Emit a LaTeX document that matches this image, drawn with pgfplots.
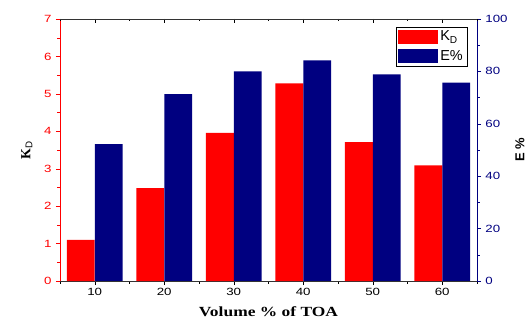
\documentclass[border=0pt]{standalone}
\usepackage{pgfplots}
\pgfplotsset{compat=1.18}
\usepackage{fontspec}
\setmainfont{Liberation Sans}
\newfontfamily\timesf{Liberation Serif}
\definecolor{navyb}{HTML}{000080}
\begin{document}
\begin{tikzpicture}
\pgfplotsset{
  common/.style={scale only axis, width=417bp, height=262bp, xmin=5, xmax=65,
    /pgf/number format/assume math mode=true,
    tick label style={font=\fontsize{10.5}{12}\selectfont, xscale=1.27},
    major tick length=4bp, minor tick length=2.5bp},
}
\begin{axis}[common, name=main,
  ymin=0, ymax=7, ybar,
  axis x line*=bottom, axis y line*=left,
  xtick={10,20,...,60}, minor xtick={5,15,...,65},
  ytick={0,1,...,7}, minor ytick={0.5,1.5,...,6.5},
  tick align=outside,
  x axis line style={black!80, -}, xtick style={black},
  y axis line style={red, -}, ytick style={red}, yticklabel style={red},
  xlabel={\timesf\bfseries Volume \% of TOA},
  xlabel style={font=\fontsize{14}{16}\selectfont, xscale=1.25, yshift=-4bp},
  ylabel={\timesf\bfseries K\textsubscript{\normalfont D}},
  ylabel style={font=\fontsize{14}{16}\selectfont, yshift=4bp},
]
\addplot[fill=red, draw=none, bar width=4, bar shift=-2]
  coordinates {(10,1.10) (20,2.48) (30,3.96) (40,5.28) (50,3.71) (60,3.09)};
\end{axis}
\begin{axis}[common,
  ymin=0, ymax=100, ybar,
  axis x line=none, axis y line*=right,
  ytick={0,20,...,100}, minor ytick={10,30,...,90},
  tick align=outside,
  y axis line style={navyb, -}, ytick style={navyb}, yticklabel style={navyb},
  ylabel={\bfseries E \%},
  ylabel style={font=\fontsize{13}{15}\selectfont},
  legend style={at={(rel axis cs:0.976,0.97)}, anchor=north east, draw=black,
    font=\fontsize{14.5}{16}\selectfont, inner sep=2bp, row sep=4bp,
    cells={anchor=west}},
  legend image code/.code={\fill[#1] (0bp,-7bp) rectangle (40bp,7bp);},
]
\addlegendimage{fill=red, draw=none}
\addlegendentry{K\textsubscript{D}}
\addplot[fill=navyb, draw=none, bar width=4, bar shift=2]
  coordinates {(10,52.2) (20,71.3) (30,80.0) (40,84.2) (50,78.9) (60,75.7)};
\addlegendentry{E\%}
\end{axis}
\begin{axis}[common,
  ymin=0, ymax=1,
  axis x line*=top, axis y line=none,
  xtick={10,20,...,60}, minor xtick={5,15,...,65}, xticklabels={},
  tick align=inside,
  x axis line style={black!80, -}, xtick style={black},
]
\end{axis}
\pgfresetboundingbox
\path ([xshift=-60bp,yshift=-42bp]main.south west) rectangle ([xshift=54bp,yshift=19bp]main.north east);
\end{tikzpicture}
\end{document}
